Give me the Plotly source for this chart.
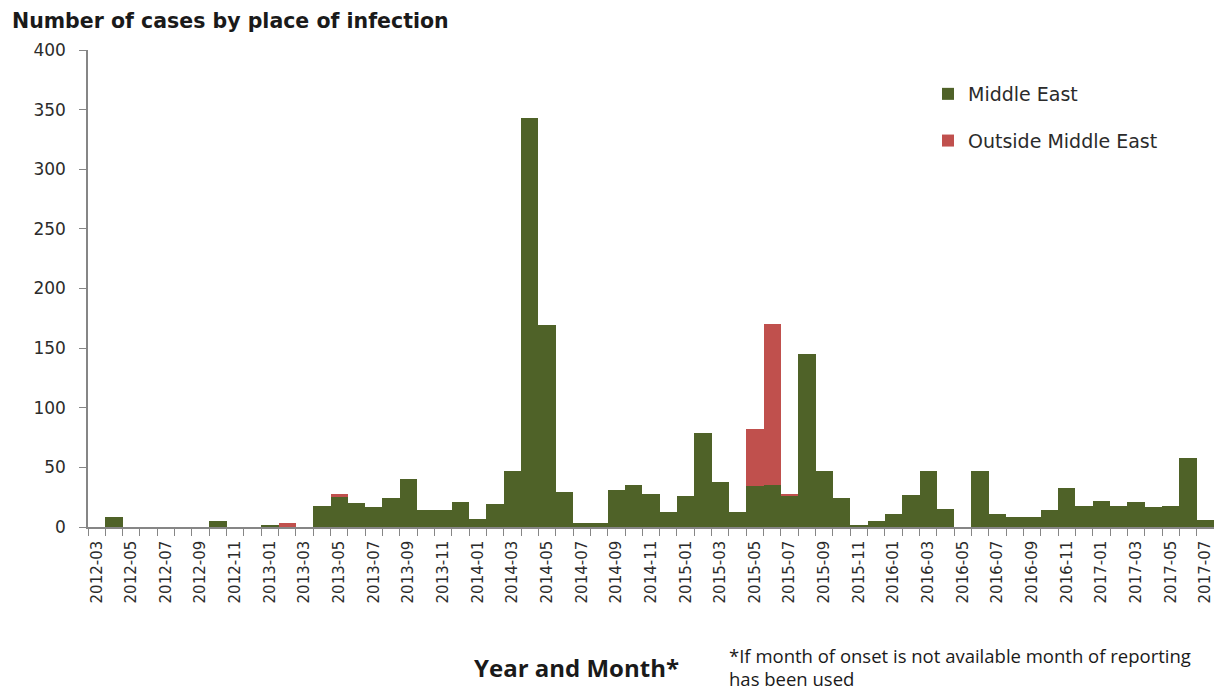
import plotly.graph_objects as go

months = [
    "2012-03", "2012-04", "2012-05", "2012-06", "2012-07", "2012-08", "2012-09", "2012-10", "2012-11", "2012-12",
    "2013-01", "2013-02", "2013-03", "2013-04", "2013-05", "2013-06", "2013-07", "2013-08", "2013-09", "2013-10",
    "2013-11", "2013-12", "2014-01", "2014-02", "2014-03", "2014-04", "2014-05", "2014-06", "2014-07", "2014-08",
    "2014-09", "2014-10", "2014-11", "2014-12", "2015-01", "2015-02", "2015-03", "2015-04", "2015-05", "2015-06",
    "2015-07", "2015-08", "2015-09", "2015-10", "2015-11", "2015-12", "2016-01", "2016-02", "2016-03", "2016-04",
    "2016-05", "2016-06", "2016-07", "2016-08", "2016-09", "2016-10", "2016-11", "2016-12", "2017-01", "2017-02",
    "2017-03", "2017-04", "2017-05", "2017-06", "2017-07",
]

middle_east = [
    0, 8, 0, 0, 0, 0, 0, 5, 0, 0,
    2, 0, 0, 18, 25, 20, 17, 24, 40, 14,
    14, 21, 7, 19, 47, 343, 169, 29, 3, 3,
    31, 35, 28, 13, 26, 79, 38, 13, 34, 35,
    26, 145, 47, 24, 2, 5, 11, 27, 47, 15,
    0, 47, 11, 8, 8, 14, 33, 18, 22, 18,
    21, 17, 18, 58, 6,
]

outside_middle_east = [
    0, 0, 0, 0, 0, 0, 0, 0, 0, 0,
    0, 3, 0, 0, 3, 0, 0, 0, 0, 0,
    0, 0, 0, 0, 0, 0, 0, 0, 0, 0,
    0, 0, 0, 0, 0, 0, 0, 0, 48, 135,
    1, 0, 0, 0, 0, 0, 0, 0, 0, 0,
    0, 0, 0, 0, 0, 0, 0, 0, 0, 0,
    0, 0, 0, 0, 0,
]

y_ticks = [0, 50, 100, 150, 200, 250, 300, 350, 400]

GREEN = "#4F6228"
RED = "#C0504D"
AXIS = "#868686"
TEXT = "#2b2b2b"

# page geometry (the browser body adds an 8px offset)
OFF = 8
FIG_W, FIG_H = 1222 - OFF, 690 - OFF
PL, PR, PT, PB = 88, 1214, 50, 527  # plot area in page pixels


def px_x(x):
    return (x - PL) / (PR - PL)


def px_y(y):
    return (PB - y) / (PB - PT)


idx = list(range(len(months)))

fig = go.Figure()
fig.add_trace(go.Bar(x=idx, y=middle_east, name="Middle East", marker=dict(color=GREEN, line=dict(width=0)),
                     legendgroup="a"))
fig.add_trace(go.Bar(x=idx, y=outside_middle_east, name="Outside Middle East",
                     marker=dict(color=RED, line=dict(width=0)), legendgroup="b"))

fig.update_layout(
    width=FIG_W, height=FIG_H,
    barmode="stack", bargap=0,
    plot_bgcolor="white", paper_bgcolor="white",
    margin=dict(l=PL - OFF, r=1222 - PR, t=PT - OFF, b=690 - PB),
    font=dict(family="DejaVu Sans", color=TEXT),
    title=dict(text="<b>Number of cases by place of infection</b>", xref="container", yref="container",
               x=(12 - OFF) / FIG_W, xanchor="left", y=1 - (21 - OFF) / FIG_H, yanchor="middle",
               font=dict(family="DejaVu Sans", size=20.5, color="#1a1a1a")),
    legend=dict(x=px_x(928), xanchor="left", y=px_y(75), yanchor="top",
                traceorder="grouped", tracegroupgap=19, bgcolor="rgba(0,0,0,0)",
                font=dict(family="DejaVu Sans", size=19, color=TEXT)),
    showlegend=True,
)

fig.update_xaxes(
    range=[-0.5, len(months) - 0.5],
    tickmode="array",
    tickvals=idx[::2],
    ticktext=months[::2],
    tickangle=-90,
    ticks="outside", ticklen=0,
    ticklabelstandoff=6,
    tickfont=dict(family="DejaVu Sans", size=15, color=TEXT),
    showline=True, linecolor=AXIS, linewidth=1.5,
    showgrid=False, zeroline=False,
    minor=dict(tickmode="linear", tick0=-0.5, dtick=1, ticks="outside", ticklen=7, tickcolor=AXIS,
               tickwidth=1.2, showgrid=False),
)

fig.update_yaxes(
    range=[0, 400],
    tickmode="array", tickvals=y_ticks,
    ticks="outside", ticklen=7, tickcolor=AXIS, tickwidth=1.2,
    ticklabelstandoff=10,
    tickfont=dict(family="DejaVu Sans", size=17, color=TEXT),
    showline=True, linecolor=AXIS, linewidth=1.5,
    showgrid=False, zeroline=False,
)

fig.add_annotation(text="<b>Year and Month*</b>", xref="paper", yref="paper",
                   x=px_x(576), y=px_y(667), xanchor="center", yanchor="middle",
                   showarrow=False, font=dict(family="Open Sans", size=24, color="#1a1a1a"))
fig.add_annotation(text="*If month of onset is not available month of reporting", xref="paper", yref="paper",
                   x=px_x(727), y=px_y(655), xanchor="left", yanchor="middle",
                   showarrow=False, font=dict(family="Open Sans", size=18.5, color="#1a1a1a"))
fig.add_annotation(text="has been used", xref="paper", yref="paper",
                   x=px_x(727), y=px_y(678), xanchor="left", yanchor="middle",
                   showarrow=False, font=dict(family="Open Sans", size=18.5, color="#1a1a1a"))

fig.write_html("out.html")
